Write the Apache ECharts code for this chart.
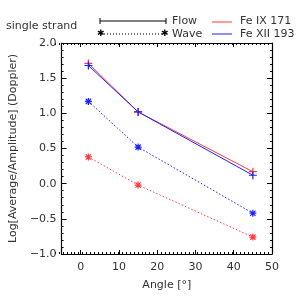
<!DOCTYPE html>
<html><head><meta charset="utf-8">
<script src="https://cdn.jsdelivr.net/npm/echarts@6/dist/echarts.min.js"></script>
<style>html,body{margin:0;padding:0;background:#fff}#c{width:299px;height:299px}</style>
</head><body><div id="c"></div>
<script>
const angles = [2, 15, 45];
const flowFe171 = [1.71, 1.02, 0.17];
const flowFe193 = [1.68, 1.02, 0.12];
const waveFe171 = [0.38, -0.02, -0.76];
const waveFe193 = [1.17, 0.52, -0.42];
const xMajorTicks = [0, 10, 20, 30, 40, 50];

const RED = '#ff3b3b', BLUE = '#1f1fff';
const FONT = 'DejaVu Sans';
const TXT = '#333';
const plus = 'path://M-1,0L1,0M0,-1L0,1';
const star = 'path://M-1,0L1,0M0,-1L0,1M-0.75,-0.75L0.75,0.75M-0.75,0.75L0.75,-0.75';
const pairs = a => angles.map((x, i) => [x, a[i]]);
const fmtNum = v => (v < 0 ? '\u2212' : '') + Math.abs(v).toFixed(1);

function series(data, color, dotted, symbol) {
  return {
    type: 'line', data: pairs(data), xAxisIndex: 0, yAxisIndex: 0,
    symbol: symbol, symbolSize: dotted ? 7 : 8, showSymbol: true,
    lineStyle: {color: color, width: 1, type: dotted ? [1.5, 2] : 'solid'},
    itemStyle: {color: 'none', borderColor: color, borderWidth: 1.2},
    animation: false, z: dotted ? 2 : 3
  };
}

const line = {show: true, onZero: false, lineStyle: {color: '#000', width: 1.2}};
const noLine = {show: false, onZero: false};
const tick = (len, extra) => Object.assign({show: true, inside: true, length: len, lineStyle: {color: '#000', width: 1}}, extra || {});
const G = {left: 55, right: 27, top: 43, bottom: 45};
const chart = echarts.init(document.getElementById('c'), null, {renderer: 'canvas'});
chart.setOption({
  animation: false,
  grid: [Object.assign({}, G), Object.assign({}, G)],
  xAxis: [
    {gridIndex: 0, type: 'value', min: -5, max: 50, interval: 5, position: 'bottom',
     axisLine: line, splitLine: {show: false},
     axisTick: tick(4, {customValues: xMajorTicks}),
     axisLabel: {customValues: xMajorTicks, color: TXT, fontFamily: FONT, fontSize: 11, margin: 8},
     name: 'Angle [\u00b0]', nameLocation: 'middle', nameGap: 26,
     nameTextStyle: {color: TXT, fontFamily: FONT, fontSize: 11}},
    {gridIndex: 0, type: 'value', min: -5, max: 50, interval: 5, position: 'top',
     axisLine: line, splitLine: {show: false}, axisLabel: {show: false},
     axisTick: tick(4, {customValues: xMajorTicks})},
    {gridIndex: 1, type: 'value', min: -5, max: 50, interval: 1, position: 'bottom',
     axisLine: noLine, splitLine: {show: false}, axisLabel: {show: false},
     axisTick: tick(2)},
    {gridIndex: 1, type: 'value', min: -5, max: 50, interval: 1, position: 'top',
     axisLine: noLine, splitLine: {show: false}, axisLabel: {show: false},
     axisTick: tick(2)}
  ],
  yAxis: [
    {gridIndex: 0, type: 'value', min: -1, max: 2, interval: 0.5, position: 'left',
     axisLine: line, splitLine: {show: false},
     axisTick: tick(5),
     minorTick: {show: true, splitNumber: 5, length: 2, lineStyle: {color: '#000'}},
     minorSplitLine: {show: false},
     axisLabel: {color: TXT, fontFamily: FONT, fontSize: 11, margin: 5, formatter: fmtNum},
     name: 'Log[Average/Amplitude] (Doppler)', nameLocation: 'middle', nameGap: 41,
     nameTextStyle: {color: TXT, fontFamily: FONT, fontSize: 11}},
    {gridIndex: 0, type: 'value', min: -1, max: 2, interval: 0.5, position: 'right',
     axisLine: line, splitLine: {show: false}, axisLabel: {show: false},
     axisTick: tick(5),
     minorTick: {show: true, splitNumber: 5, length: 2, lineStyle: {color: '#000'}}},
    {gridIndex: 1, type: 'value', min: -1, max: 2, show: false}
  ],
  series: [
    series(waveFe171, RED, true, star),
    series(waveFe193, BLUE, true, star),
    series(flowFe171, RED, false, plus),
    series(flowFe193, BLUE, false, plus)
  ],
  graphic: [
    {type: 'text', left: 6, top: 21, style: {text: 'single strand', fill: TXT, font: '11px "DejaVu Sans"'}},
    {type: 'line', shape: {x1: 100, y1: 21, x2: 166, y2: 21}, style: {stroke: '#000', lineWidth: 1}},
    {type: 'line', shape: {x1: 100, y1: 18, x2: 100, y2: 24}, style: {stroke: '#000', lineWidth: 1}},
    {type: 'line', shape: {x1: 166, y1: 18, x2: 166, y2: 24}, style: {stroke: '#000', lineWidth: 1}},
    {type: 'text', left: 172, top: 16, style: {text: 'Flow', fill: TXT, font: '11px "DejaVu Sans"'}},
    {type: 'line', shape: {x1: 101, y1: 34, x2: 164, y2: 34}, style: {stroke: '#000', lineWidth: 1, lineDash: [1, 2]}},
    {type: 'text', left: 97, top: 29, style: {text: '\u2731', fill: '#000', font: '9px "DejaVu Sans"'}},
    {type: 'text', left: 161, top: 29, style: {text: '\u2731', fill: '#000', font: '9px "DejaVu Sans"'}},
    {type: 'text', left: 172, top: 29, style: {text: 'Wave', fill: TXT, font: '11px "DejaVu Sans"'}},
    {type: 'line', shape: {x1: 212, y1: 22, x2: 232, y2: 22}, style: {stroke: RED, lineWidth: 1}},
    {type: 'text', left: 240, top: 16, style: {text: 'Fe IX 171', fill: TXT, font: '11px "DejaVu Sans"'}},
    {type: 'line', shape: {x1: 212, y1: 34, x2: 232, y2: 34}, style: {stroke: BLUE, lineWidth: 1}},
    {type: 'text', left: 240, top: 29, style: {text: 'Fe XII 193', fill: TXT, font: '11px "DejaVu Sans"'}}
  ]
});
</script></body></html>
